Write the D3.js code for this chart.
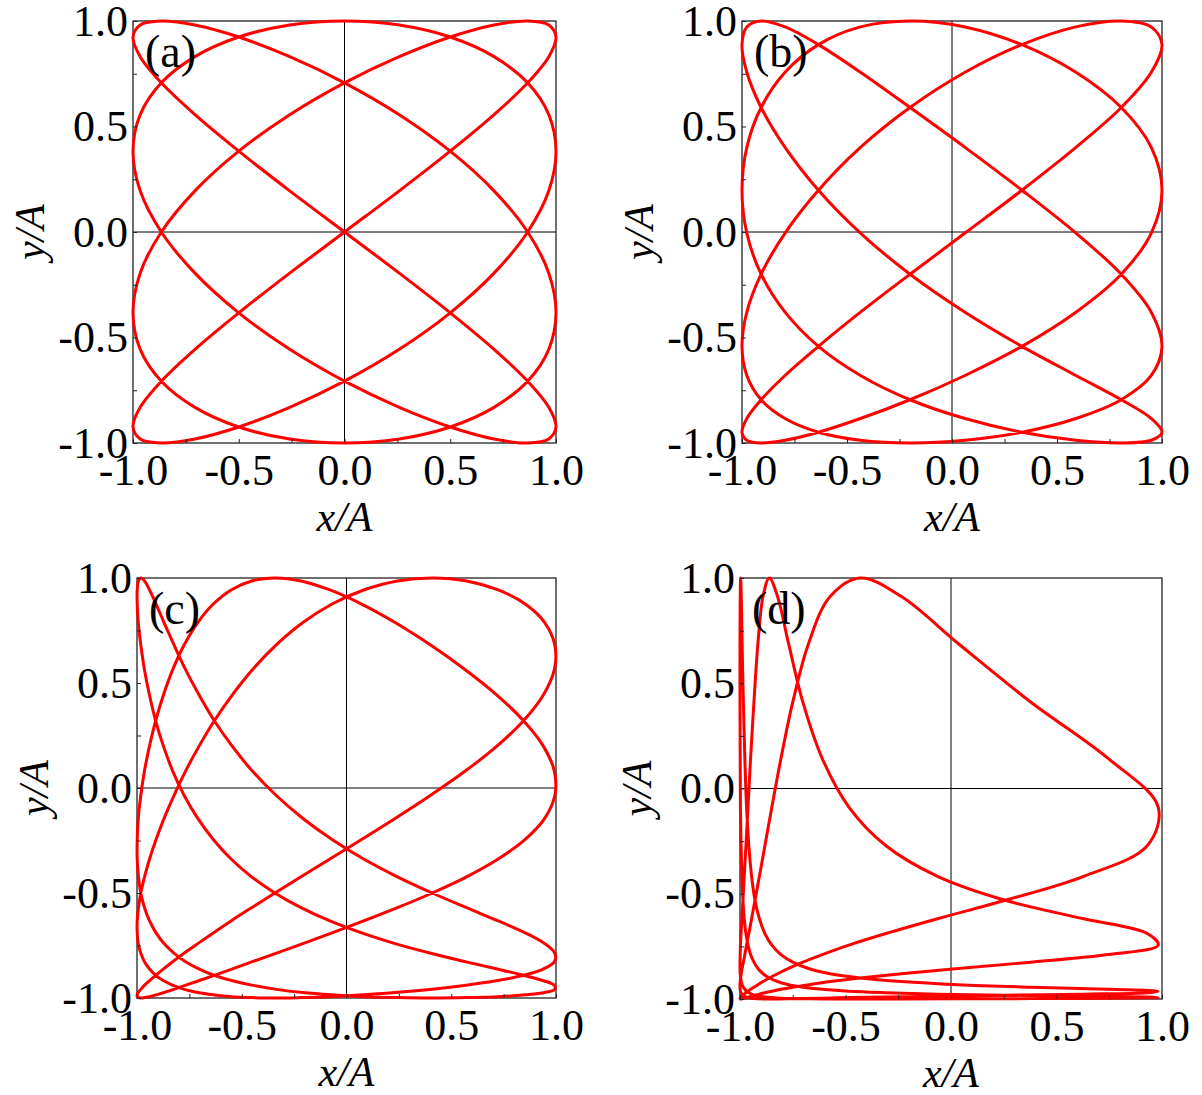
<!DOCTYPE html>
<html><head><meta charset="utf-8">
<script src="https://cdn.jsdelivr.net/npm/d3@7"></script>
<style>body{margin:0;background:#fff}svg{display:block}</style>
</head><body>
<script>
// ---- axis ticks and labels ----
const tickValues=[-1,-0.5,0,0.5,1];
const tickLabels=["-1.0","-0.5","0.0","0.5","1.0"];
const allTicks=[-1,-0.75,-0.5,-0.25,0,0.25,0.5,0.75,1];
const panelLabels=["(a)","(b)","(c)","(d)"];

// ---- curve samples (x/A, y/A), read along each closed trajectory ----
const xa=[0,.259,.5,.707,.866,.966,1,.966,.866,.707,.5,.259,0,-.259,-.5,-.707,-.866,-.966,-1,-.966,-.866,-.707,-.5,-.259,
0,.259,.5,.707,.866,.966,1,.966,.866,.707,.5,.259,0,-.259,-.5,-.707,-.866,-.966,-1,-.966,-.866,-.707,-.5,-.259,
0,.259,.5,.707,.866,.966,1,.966,.866,.707,.5,.259,0,-.259,-.5,-.707,-.866,-.966,-1,-.966,-.866,-.707,-.5,-.259,
0,.259,.5,.707,.866,.966,1,.966,.866,.707,.5,.259,0,-.259,-.5,-.707,-.866,-.966,-1,-.966,-.866,-.707,-.5,-.259];
const ya=[0,.195,.383,.556,.707,.831,.924,.981,1,.981,.924,.831,.707,.556,.383,.195,0,-.195,-.383,-.556,-.707,-.831,-.924,-.981,-1,-.981,-.924,-.831,-.707,-.556,-.383,-.195,
0,.195,.383,.556,.707,.831,.924,.981,1,.981,.924,.831,.707,.556,.383,.195,0,-.195,-.383,-.556,-.707,-.831,-.924,-.981,-1,-.981,-.924,-.831,-.707,-.556,-.383,-.195,
0,.195,.383,.556,.707,.831,.924,.981,1,.981,.924,.831,.707,.556,.383,.195,0,-.195,-.383,-.556,-.707,-.831,-.924,-.981,-1,-.981,-.924,-.831,-.707,-.556,-.383,-.195];

const xb=[-.2,.062,.333,.59,.806,.949,1,.949,.806,.59,.333,.062,-.2,-.436,-.636,-.795,-.909,-.977,-1,-.977,-.909,-.795,-.636,-.436,
-.2,.062,.333,.59,.806,.949,1,.949,.806,.59,.333,.062,-.2,-.436,-.636,-.795,-.909,-.977,-1,-.977,-.909,-.795,-.636,-.436,
-.2,.062,.333,.59,.806,.949,1,.949,.806,.59,.333,.062,-.2,-.436,-.636,-.795,-.909,-.977,-1,-.977,-.909,-.795,-.636,-.436,
-.2,.062,.333,.59,.806,.949,1,.949,.806,.59,.333,.062,-.2,-.436,-.636,-.795,-.909,-.977,-1,-.977,-.909,-.795,-.636,-.436];
const yb=[-.2,-.005,.198,.401,.59,.757,.888,.972,1,.972,.888,.757,.59,.401,.198,-.005,-.2,-.38,-.542,-.68,-.795,-.884,-.949,-.987,-1,-.987,-.949,-.884,-.795,-.68,-.542,-.38,
-.2,-.005,.198,.401,.59,.757,.888,.972,1,.972,.888,.757,.59,.401,.198,-.005,-.2,-.38,-.542,-.68,-.795,-.884,-.949,-.987,-1,-.987,-.949,-.884,-.795,-.68,-.542,-.38,
-.2,-.005,.198,.401,.59,.757,.888,.972,1,.972,.888,.757,.59,.401,.198,-.005,-.2,-.38,-.542,-.68,-.795,-.884,-.949,-.987,-1,-.987,-.949,-.884,-.795,-.68,-.542,-.38];

const xc=[.409,.243,.082,-.069,-.208,-.334,-.446,-.544,-.631,-.705,-.77,-.824,-.871,-.909,-.94,-.964,-.982,-.993,-.999,-.999,-.994,-.982,-.965,-.941,-.911,-.873,-.828,-.774,-.71,-.636,-.551,-.453,-.342,-.217,-.079,.072,.232,.398,.562,.715,.845,.941,.993,.994,.946,.853,.724,.573,
.409,.243,.082,-.069,-.208,-.334,-.446,-.544,-.631,-.705,-.77,-.824,-.871,-.909,-.94,-.964,-.982,-.993,-.999,-.999,-.994,-.982,-.965,-.941,-.911,-.873,-.828,-.774,-.71,-.636,-.551,-.453,-.342,-.217,-.079,.072,.232,.398,.562,.715,.845,.941,.993,.994,.946,.853,.724,.573,
.409,.243,.082,-.069,-.208,-.334,-.446,-.544,-.631,-.705,-.77,-.824,-.871,-.909,-.94,-.964,-.982,-.993,-.999,-.999,-.994,-.982,-.965,-.941,-.911,-.873,-.828,-.774,-.71,-.636,-.551,-.453,-.342,-.217,-.079,.072,.232,.398,.562,.715,.845,.941,.993,.994,.946,.853,.724,.573,
.409,.243,.082,-.069,-.208,-.334,-.446,-.544,-.631,-.705,-.77,-.824,-.871,-.909,-.94,-.964,-.982,-.993,-.999,-.999,-.994,-.982,-.965,-.941,-.911,-.873,-.828,-.774,-.71,-.636,-.551,-.453,-.342,-.217,-.079,.072,.232,.398,.562,.715,.845,.941,.993,.994,.946,.853,.724,.573];
const yc=[1,.986,.943,.876,.788,.683,.567,.445,.32,.197,.077,-.037,-.145,-.245,-.338,-.423,-.5,-.57,-.633,-.69,-.741,-.786,-.826,-.861,-.892,-.918,-.94,-.959,-.974,-.985,-.994,-.998,-1,-.998,-.994,-.985,-.974,-.959,-.94,-.918,-.892,-.861,-.826,-.786,-.741,-.69,-.633,-.57,-.5,-.423,-.338,-.245,-.145,-.037,.077,.197,.32,.445,.567,.683,.788,.876,.943,.986,
1,.986,.943,.876,.788,.683,.567,.445,.32,.197,.077,-.037,-.145,-.245,-.338,-.423,-.5,-.57,-.633,-.69,-.741,-.786,-.826,-.861,-.892,-.918,-.94,-.959,-.974,-.985,-.994,-.998,-1,-.998,-.994,-.985,-.974,-.959,-.94,-.918,-.892,-.861,-.826,-.786,-.741,-.69,-.633,-.57,-.5,-.423,-.338,-.245,-.145,-.037,.077,.197,.32,.445,.567,.683,.788,.876,.943,.986,
1,.986,.943,.876,.788,.683,.567,.445,.32,.197,.077,-.037,-.145,-.245,-.338,-.423,-.5,-.57,-.633,-.69,-.741,-.786,-.826,-.861,-.892,-.918,-.94,-.959,-.974,-.985,-.994,-.998,-1,-.998,-.994,-.985,-.974,-.959,-.94,-.918,-.892,-.861,-.826,-.786,-.741,-.69,-.633,-.57,-.5,-.423,-.338,-.245,-.145,-.037,.077,.197,.32,.445,.567,.683,.788,.876,.943,.986];

const xd=[-.431,-.573,-.675,-.75,-.806,-.849,-.882,-.908,-.929,-.945,-.958,-.969,-.977,-.984,-.99,-.994,-.997,-.999,-1,-1,-.999,-.998,-.995,-.991,-.986,-.98,-.972,-.962,-.95,-.934,-.915,-.891,-.861,-.822,-.77,-.702,-.61,-.484,-.308,-.064,.257,.629,.93,.982,.746,.379,.034,-.235,
-.431,-.573,-.675,-.75,-.806,-.849,-.882,-.908,-.929,-.945,-.958,-.969,-.977,-.984,-.99,-.994,-.997,-.999,-1,-1,-.999,-.998,-.995,-.991,-.986,-.98,-.972,-.962,-.95,-.934,-.915,-.891,-.861,-.822,-.77,-.702,-.61,-.484,-.308,-.064,.257,.629,.93,.982,.746,.379,.034,-.235,
-.431,-.573,-.675,-.75,-.806,-.849,-.882,-.908,-.929,-.945,-.958,-.969,-.977,-.984,-.99,-.994,-.997,-.999,-1,-1,-.999,-.998,-.995,-.991,-.986,-.98,-.972,-.962,-.95,-.934,-.915,-.891,-.861,-.822,-.77,-.702,-.61,-.484,-.308,-.064,.257,.629,.93,.982,.746,.379,.034,-.235,
-.431,-.573,-.675,-.75,-.806,-.849,-.882,-.908,-.929,-.945,-.958,-.969,-.977,-.984,-.99,-.994,-.997,-.999,-1,-1,-.999,-.998,-.995,-.991,-.986,-.98,-.972,-.962,-.95,-.934,-.915,-.891,-.861,-.822,-.77,-.702,-.61,-.484,-.308,-.064,.257,.629,.93,.982,.746,.379,.034,-.235];
const yd=[1,.912,.689,.41,.142,-.088,-.272,-.417,-.531,-.619,-.689,-.744,-.789,-.825,-.855,-.88,-.9,-.917,-.932,-.944,-.954,-.963,-.97,-.977,-.982,-.987,-.99,-.993,-.996,-.998,-.999,-1,-1,-1,-.999,-.998,-.996,-.993,-.99,-.987,-.982,-.977,-.97,-.963,-.954,-.944,-.932,-.917,-.9,-.88,-.855,-.825,-.789,-.744,-.689,-.619,-.531,-.417,-.272,-.088,.142,.41,.689,.912,
1,.912,.689,.41,.142,-.088,-.272,-.417,-.531,-.619,-.689,-.744,-.789,-.825,-.855,-.88,-.9,-.917,-.932,-.944,-.954,-.963,-.97,-.977,-.982,-.987,-.99,-.993,-.996,-.998,-.999,-1,-1,-1,-.999,-.998,-.996,-.993,-.99,-.987,-.982,-.977,-.97,-.963,-.954,-.944,-.932,-.917,-.9,-.88,-.855,-.825,-.789,-.744,-.689,-.619,-.531,-.417,-.272,-.088,.142,.41,.689,.912,
1,.912,.689,.41,.142,-.088,-.272,-.417,-.531,-.619,-.689,-.744,-.789,-.825,-.855,-.88,-.9,-.917,-.932,-.944,-.954,-.963,-.97,-.977,-.982,-.987,-.99,-.993,-.996,-.998,-.999,-1,-1,-1,-.999,-.998,-.996,-.993,-.99,-.987,-.982,-.977,-.97,-.963,-.954,-.944,-.932,-.917,-.9,-.88,-.855,-.825,-.789,-.744,-.689,-.619,-.531,-.417,-.272,-.088,.142,.41,.689,.912];

// ---- layout (pixel boxes of the four plot frames) ----
const boxes=[[133,21,556,443],[742,21,1162,443],[137,578,556,998],[740,578,1162,999]];
const series=[[xa,ya],[xb,yb],[xc,yc],[xd,yd]];

const svg=d3.select("body").append("svg").attr("width",1202).attr("height",1095);
const FONT="'Liberation Serif','Times New Roman',serif";

boxes.forEach((b,i)=>{
  const [L,T,R,B]=b;
  const x=d3.scaleLinear().domain([-1,1]).range([L,R]);
  const y=d3.scaleLinear().domain([-1,1]).range([B,T]);
  const g=svg.append("g");
  const cid="clip"+i;
  svg.append("clipPath").attr("id",cid).append("rect").attr("x",L-2).attr("y",T-2).attr("width",R-L+4).attr("height",B-T+4);
  g.append("line").attr("x1",x(0)).attr("x2",x(0)).attr("y1",T).attr("y2",B).attr("stroke","#000").attr("stroke-width",1);
  g.append("line").attr("x1",L).attr("x2",R).attr("y1",y(0)).attr("y2",y(0)).attr("stroke","#000").attr("stroke-width",1);
  const [X,Y]=series[i];
  const pts=X.map((v,j)=>[v,Y[j]]);
  const line=d3.line().x(d=>x(d[0])).y(d=>y(d[1])).curve(d3.curveCatmullRomClosed.alpha(0.5));
  g.append("rect").attr("x",L).attr("y",T).attr("width",R-L).attr("height",B-T).attr("fill","none").attr("stroke","#222").attr("stroke-width",1.3);
  g.append("path").attr("clip-path",`url(#${cid})`).attr("d",line(pts)).attr("fill","none").attr("stroke","#ff0000").attr("stroke-width",3).attr("stroke-linejoin","round");
  const fmt=d=>{const k=tickValues.indexOf(d);return k>=0?tickLabels[k]:"";};
  const ax=g.append("g").attr("transform",`translate(0,${B})`).call(d3.axisBottom(x).tickValues(allTicks).tickSize(-4).tickPadding(11).tickFormat(fmt));
  const ay=g.append("g").attr("transform",`translate(${L},0)`).call(d3.axisLeft(y).tickValues(allTicks).tickSize(-4).tickPadding(5).tickFormat(fmt));
  [ax,ay].forEach(a=>{a.select(".domain").remove();a.selectAll("line").attr("stroke","#222");a.selectAll("text").attr("font-family",FONT).attr("font-size",44).attr("fill","#000");});
  g.append("text").attr("x",(L+R)/2).attr("y",B+88).attr("text-anchor","middle").attr("font-family",FONT).attr("font-style","italic").attr("font-size",42).text("x/A");
  g.append("text").attr("transform",`translate(${L-89},${(T+B)/2}) rotate(-90)`).attr("text-anchor","middle").attr("font-family",FONT).attr("font-style","italic").attr("font-size",42).text("y/A");
  g.append("text").attr("x",L+12).attr("y",T+46).attr("font-family",FONT).attr("font-size",46).text(panelLabels[i]);
});
</script>
</body></html>
